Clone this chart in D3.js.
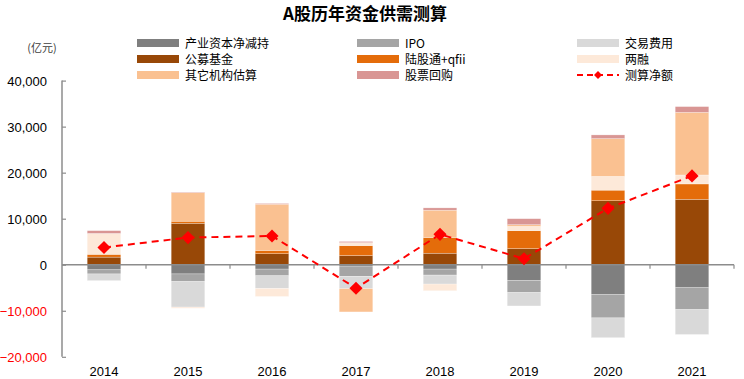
<!DOCTYPE html>
<html lang="zh">
<head>
<meta charset="utf-8">
<title>A股历年资金供需测算</title>
<script src="https://cdn.jsdelivr.net/npm/d3@7"></script>
<style>
body { margin: 0; background: #fff; font-family: "Liberation Sans", Arial, "Noto Sans CJK SC", sans-serif; }
</style>
</head>
<body>
<div id="vis"></div>
<script>

/* Data (亿元) */
var years = ['2014', '2015', '2016', '2017', '2018', '2019', '2020', '2021'];

var chanye   = [-1100, -2000,  -950,  -300,  -950, -3400, -6500, -5000];
var ipo      = [ -900, -1650, -1450, -2200, -1300, -2650, -5050, -4750];
var jiaoyi   = [-1450, -5550, -2750, -2700, -1950, -2900, -4300, -5400];
var gongmu   = [ 1650,  9000,  2400,  2000,  2500,  3500, 13900, 14200];
var lugutong = [  600,   450,   700,  2150,  3400,  3900,  2300,  3350];
var liangrong= [ 4550,  -250, -1750,   650, -1450,   930,  3000,  1950];
var qita     = [    0,  6200, 10050, -5050,  5950,   370,  8200, 13600];
var huigou   = [  600,   100,   150,   250,   500,  1300,   800,  1250];
var netValue = [ 3750,  5900,  6250, -5100,  6600,  1300, 12250, 19300];

var yTicks = [-20000, -10000, 0, 10000, 20000, 30000, 40000];

var series = [
	{ key: '产业资本净减持', values: chanye,    color: '#7f7f7f' },
	{ key: 'IPO',           values: ipo,       color: '#a5a5a5' },
	{ key: '交易费用',       values: jiaoyi,    color: '#d9d9d9' },
	{ key: '公募基金',       values: gongmu,    color: '#984807' },
	{ key: '陆股通+qfii',    values: lugutong,  color: '#e46c0a' },
	{ key: '两融',           values: liangrong, color: '#fde9d9' },
	{ key: '其它机构估算',    values: qita,      color: '#fac191' },
	{ key: '股票回购',       values: huigou,    color: '#d99694' }
];

/* SVG */
var W = 744, H = 379;
var svg = d3.select('#vis').append('svg')
	.attr('width', W)
	.attr('height', H);

var x = d3.scaleBand()
	.domain(years)
	.range([62, 734])
	.paddingInner(0.6)
	.paddingOuter(0.3);

var y = d3.scaleLinear()
	.domain([-20000, 40000])
	.range([356.8, 80.6]);

// table for stacking
var table = years.map(function(yr, i) {
	var row = { year: yr };
	series.forEach(function(s) { row[s.key] = s.values[i]; });
	return row;
});

var stack = d3.stack()
	.keys(series.map(function(s) { return s.key; }))
	.offset(d3.stackOffsetDiverging);

var layers = stack(table);

/* Title */
svg.append('text')
	.attr('x', 365)
	.attr('y', 20)
	.attr('text-anchor', 'middle')
	.style('font-family', '"Noto Sans CJK SC", sans-serif')
	.style('font-weight', 'bold')
	.style('font-size', '17px')
	.attr('fill', '#000')
	.text('A股历年资金供需测算');

/* Unit */
svg.append('text')
	.attr('x', 42)
	.attr('y', 52)
	.attr('text-anchor', 'middle')
	.style('font-family', '"Noto Sans CJK SC", sans-serif')
	.style('font-size', '11px')
	.attr('fill', '#404040')
	.text('(亿元)');

/* Bars */
svg.append('g').attr('class', 'bars')
	.selectAll('g')
	.data(layers)
	.enter().append('g')
		.attr('fill', function(d, i) { return series[i].color; })
	.selectAll('rect')
	.data(function(d) { return d; })
	.enter().append('rect')
		.attr('x', function(d) { return x(d.data.year); })
		.attr('width', x.bandwidth())
		.attr('y', function(d) { return y(Math.max(d[0], d[1])); })
		.attr('height', function(d) { return Math.abs(y(d[0]) - y(d[1])); })
		.attr('stroke', 'rgba(255,255,255,0.5)')
		.attr('stroke-width', 0.5);

/* Y axis */
var yAxis = svg.append('g')
	.attr('transform', 'translate(62,0)')
	.call(d3.axisRight(y).tickValues(yTicks).tickSize(4).tickFormat(''));
yAxis.select('.domain').attr('stroke', '#8c8c8c').attr('stroke-width', 1.5)
	.attr('d', 'M0,' + y(40000) + 'V' + y(-20000));
yAxis.selectAll('.tick line').attr('stroke', '#8c8c8c').attr('stroke-width', 1.2);

svg.append('g').attr('class', 'ylabels')
	.selectAll('text')
	.data(yTicks)
	.enter().append('text')
		.attr('x', 47)
		.attr('y', function(d) { return y(d) + 5; })
		.attr('text-anchor', 'end')
		.style('font-size', '13px')
		.attr('fill', function(d) { return d < 0 ? '#ff0000' : '#000'; })
		.text(function(d) { return d3.format(',')(d); });

/* X axis at zero */
var step = x.step();
var bounds = d3.range(years.length + 1).map(function(i) { return 62 + i * step; });
svg.append('line')
	.attr('x1', 62).attr('x2', 734)
	.attr('y1', y(0)).attr('y2', y(0))
	.attr('stroke', '#8c8c8c').attr('stroke-width', 1.5);
svg.append('g').selectAll('line')
	.data(bounds.slice(1))
	.enter().append('line')
		.attr('x1', function(d) { return d; }).attr('x2', function(d) { return d; })
		.attr('y1', y(0)).attr('y2', y(0) + 4)
		.attr('stroke', '#8c8c8c').attr('stroke-width', 1.2);

svg.append('g').attr('class', 'xlabels')
	.selectAll('text')
	.data(years)
	.enter().append('text')
		.attr('x', function(d) { return x(d) + x.bandwidth() / 2; })
		.attr('y', 376)
		.attr('text-anchor', 'middle')
		.style('font-size', '13px')
		.attr('fill', '#000')
		.text(function(d) { return d; });

/* Net line */
var cx = function(d, i) { return x(years[i]) + x.bandwidth() / 2; };
var line = d3.line()
	.x(cx)
	.y(function(d) { return y(d); });

svg.append('path')
	.datum(netValue)
	.attr('d', line)
	.attr('fill', 'none')
	.attr('stroke', '#ff0000')
	.attr('stroke-width', 2)
	.attr('stroke-dasharray', '7,5');

svg.append('g').selectAll('path')
	.data(netValue)
	.enter().append('path')
		.attr('transform', function(d, i) { return 'translate(' + cx(d, i) + ',' + y(d) + ')'; })
		.attr('d', d3.symbol().type(d3.symbolDiamond2).size(110))
		.attr('fill', '#ff0000');

/* Legend */
var legendCols = [137, 357, 577];
var legendRows = [43, 59, 75];
var legendOrder = ['产业资本净减持', 'IPO', '交易费用', '公募基金', '陆股通+qfii', '两融', '其它机构估算', '股票回购', '测算净额'];

var legend = svg.append('g').attr('class', 'legend')
	.selectAll('g')
	.data(legendOrder)
	.enter().append('g')
		.attr('transform', function(d, i) {
			return 'translate(' + legendCols[i % 3] + ',' + legendRows[Math.floor(i / 3)] + ')';
		});

legend.each(function(d) {
	var g = d3.select(this);
	var s = series.find(function(e) { return e.key === d; });
	if (s) {
		g.append('rect')
			.attr('x', 0).attr('y', -4)
			.attr('width', 42).attr('height', 8)
			.attr('fill', s.color);
	} else {
		g.append('line')
			.attr('x1', 0).attr('x2', 42).attr('y1', 0).attr('y2', 0)
			.attr('stroke', '#ff0000').attr('stroke-width', 2)
			.attr('stroke-dasharray', '6,4');
		g.append('path')
			.attr('transform', 'translate(21,0)')
			.attr('d', d3.symbol().type(d3.symbolDiamond2).size(40))
			.attr('fill', '#ff0000');
	}
	g.append('text')
		.attr('x', 48).attr('y', 4.5)
		.style('font-family', '"Noto Sans CJK SC", sans-serif')
		.style('font-size', '12px')
		.attr('fill', '#000')
		.text(d);
});

</script>
</body>
</html>
